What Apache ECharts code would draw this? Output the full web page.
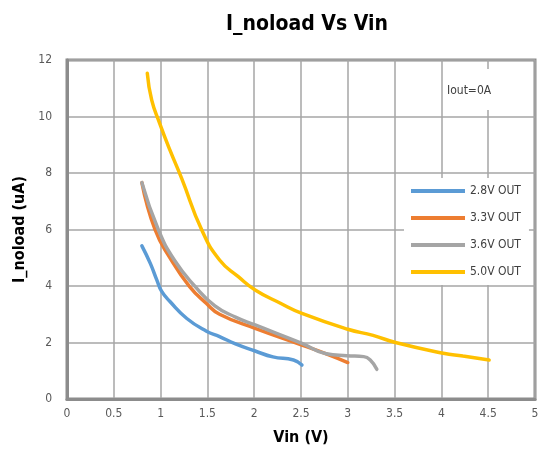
<!DOCTYPE html>
<html><head><meta charset="utf-8">
<script src="https://cdn.jsdelivr.net/npm/echarts@6/dist/echarts.min.js"></script>
<style>html,body{margin:0;padding:0;background:#fff}#c{width:542px;height:459px}</style>
</head><body><div id="c"></div>
<script>
var FONT = '"Liberation Sans Narrow","DejaVu Sans Condensed","Roboto Condensed",sans-serif';
var seriesNames = ['2.8V OUT', '3.3V OUT', '3.6V OUT', '5.0V OUT'];
var seriesColors = ['#5B9BD5', '#ED7D31', '#A5A5A5', '#FFC000'];
var vout28 = [[0.80,5.42],[0.89,4.80],[0.96,4.21],[1.01,3.82],[1.10,3.45],[1.28,2.85],[1.49,2.40],[1.63,2.21],[1.80,1.95],[2.01,1.70],[2.20,1.49],[2.42,1.38],[2.51,1.20]];
var vout33 = [[0.80,7.66],[0.94,6.00],[1.10,5.00],[1.31,3.98],[1.49,3.38],[1.63,3.00],[2.01,2.50],[2.51,1.91],[2.77,1.60],[3.00,1.29]];
var vout36 = [[0.80,7.66],[0.975,6.00],[1.15,4.90],[1.37,3.98],[1.58,3.30],[1.80,2.90],[2.01,2.62],[2.51,1.97],[2.77,1.60],[2.99,1.53],[3.17,1.50],[3.24,1.38],[3.31,1.05]];
var vout50 = [[0.858,11.53],[0.905,10.58],[0.99,9.76],[1.10,8.81],[1.225,7.81],[1.44,5.98],[1.63,4.92],[1.83,4.33],[2.01,3.86],[2.28,3.39],[2.51,3.03],[3.00,2.47],[3.27,2.25],[3.52,1.99],[4.02,1.62],[4.23,1.52],[4.51,1.38]];
var allData = [vout28, vout33, vout36, vout50];

var chart = echarts.init(document.getElementById('c'));
var axisCol = '#8c8c8c';
chart.setOption({
  animation: false,
  textStyle: {fontFamily: FONT},
  title: {
    text: 'I_noload Vs Vin', left: 302, top: 9, textAlign: 'center',
    textStyle: {fontFamily: FONT, fontSize: 21, fontWeight: 'bold', color: '#000'}
  },
  grid: {left: 67, right: 7, top: 60, bottom: 60, show: true, borderColor: axisCol, borderWidth: 3, backgroundColor: 'transparent'},
  legend: {
    orient: 'vertical', left: 404, top: 178, backgroundColor: '#fff',
    padding: [6, 8, 6, 7], itemGap: 13, itemWidth: 54, itemHeight: 4, icon: 'rect',
    textStyle: {fontFamily: FONT, fontSize: 12, color: '#404040', lineHeight: 14},
    data: seriesNames
  },
  xAxis: {
    type: 'value', min: 0, max: 5, interval: 0.5,
    name: 'Vin (V)', nameLocation: 'middle', nameGap: 31,
    nameTextStyle: {fontFamily: FONT, fontSize: 16, fontWeight: 'bold', color: '#000'},
    axisLine: {show: true, lineStyle: {color: axisCol, width: 3}},
    axisTick: {show: false},
    axisLabel: {margin: 9, color: '#595959', fontSize: 12, fontFamily: FONT},
    splitLine: {show: true, lineStyle: {color: '#a6a6a6', width: 1.5}}
  },
  yAxis: {
    type: 'value', min: 0, max: 12, interval: 2,
    name: 'I_noload (uA)', nameLocation: 'middle', nameGap: 38,
    nameTextStyle: {fontFamily: FONT, fontSize: 16, fontWeight: 'bold', color: '#000'},
    axisLine: {show: true, lineStyle: {color: axisCol, width: 3}},
    axisTick: {show: false},
    axisLabel: {margin: 15, color: '#595959', fontSize: 12, fontFamily: FONT},
    splitLine: {show: true, lineStyle: {color: '#a6a6a6', width: 1.5}}
  },
  graphic: [
    {type: 'rect', left: 446, top: 69, z: 5, shape: {width: 84, height: 41}, style: {fill: '#fff'}},
    {type: 'text', left: 447, top: 85, z: 6, style: {text: 'Iout=0A', font: '12px ' + FONT, fill: '#404040'}}
  ],
  series: allData.map(function (d, i) {
    return {
      name: seriesNames[i], type: 'line', data: d, smooth: 0.5, showSymbol: false, symbol: 'none',
      lineStyle: {color: seriesColors[i], width: 3.5, cap: 'round'},
      itemStyle: {color: seriesColors[i]}, z: 2 + i
    };
  })
});
</script></body></html>
